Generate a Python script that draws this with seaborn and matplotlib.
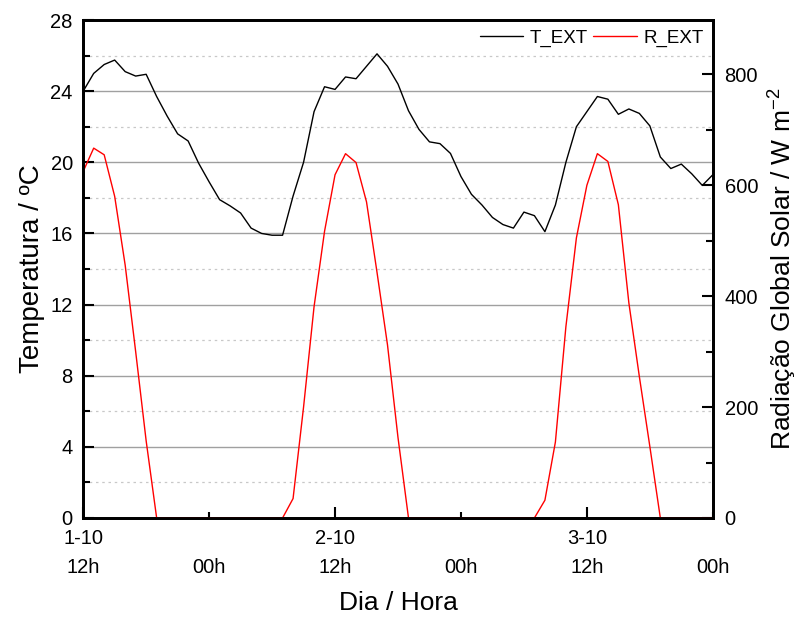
import numpy as np
import pandas as pd
import matplotlib
matplotlib.use("Agg")
import matplotlib.pyplot as plt
import seaborn as sns
from matplotlib.lines import Line2D

# ---- data (hourly, starting 1-10 12h) ----
hours = list(range(61))
t_ext = [24.0, 25.0, 25.5, 25.75, 25.1, 24.85, 24.95, 23.7, 22.6, 21.6,
         21.2, 19.95, 18.9, 17.9, 17.55, 17.15, 16.3, 16.0, 15.9, 15.9,
         18.1, 20.0, 22.85, 24.25, 24.1, 24.8, 24.7, 25.4, 26.1, 25.4,
         24.4, 22.9, 21.85, 21.15, 21.05, 20.5, 19.2, 18.2, 17.6, 16.9,
         16.5, 16.3, 17.2, 17.0, 16.1, 17.6, 20.0, 22.0, 22.85, 23.7,
         23.55, 22.7, 23.0, 22.75, 22.05, 20.3, 19.65, 19.9, 19.35, 18.7,
         19.3]
r_ext = [625, 667, 655, 580, 456, 300, 139, 0, 0, 0,
         0, 0, 0, 0, 0, 0, 0, 0, 0, 0,
         35, 200, 381, 517, 619, 657, 641, 570, 443, 312,
         145, 0, 0, 0, 0, 0, 0, 0, 0, 0,
         0, 0, 0, 0, 32, 137, 345, 505, 600, 657,
         643, 565, 388, 255, 129, 0, 0, 0, 0, 0,
         0]
major_x = [0, 24, 48]
major_x_labels = ["1-10\n12h", "2-10\n12h", "3-10\n12h"]
minor_x = [12, 36, 60]
minor_x_labels = ["\n00h", "\n00h", "\n00h"]
t_ticks = [0, 4, 8, 12, 16, 20, 24, 28]
r_ticks = [0, 200, 400, 600, 800]

df = pd.DataFrame({"hora": hours, "T_EXT": t_ext, "R_EXT": r_ext})

sns.set_style("white")
plt.rcParams["font.family"] = ["Liberation Sans", "DejaVu Sans"]
plt.rcParams["mathtext.fontset"] = "custom"
plt.rcParams["mathtext.rm"] = "Liberation Sans"
plt.rcParams["mathtext.it"] = "Liberation Sans"
for key in ("text.color", "axes.labelcolor", "xtick.color", "ytick.color"):
    plt.rcParams[key] = "black"

fig = plt.figure(figsize=(8, 6.17), dpi=100)
ax = fig.add_axes([0.104, 0.1605, 0.787, 0.807])

sns.lineplot(data=df, x="hora", y="T_EXT", ax=ax, color="black", lw=1.0,
             legend=False)
ax2 = ax.twinx()
sns.lineplot(data=df, x="hora", y="R_EXT", ax=ax2, color="#ff0000", lw=1.0,
             legend=False)

ax.set_xlim(0, 60)
ax.set_ylim(0, 28)
ax2.set_ylim(0, 898)

# x ticks
ax.set_xticks(major_x, labels=major_x_labels)
ax.set_xticks(minor_x, labels=minor_x_labels, minor=True)
ax.tick_params(axis="x", which="major", direction="in", length=8, width=1.5,
               labelsize=14.5, pad=8, bottom=True, top=False)
ax.tick_params(axis="x", which="minor", direction="in", length=4, width=1.5,
               labelsize=14.5, pad=8, bottom=True, top=False)
for lbl in ax.get_xticklabels(which="both"):
    lbl.set_linespacing(1.68)

# left y ticks
ax.set_yticks(t_ticks)
ax.set_yticks(np.arange(2, 28, 4), minor=True)
ax.tick_params(axis="y", which="major", direction="in", length=8, width=1.5,
               labelsize=14.5, pad=7.5, left=True, right=False)
ax.tick_params(axis="y", which="minor", direction="in", length=5, width=1.5,
               left=True, right=False)

# right y ticks
ax2.set_yticks(r_ticks)
ax2.set_yticks(np.arange(100, 900, 200), minor=True)
ax2.tick_params(axis="y", which="major", direction="in", length=8, width=1.5,
                labelsize=14.5, pad=8.5, right=True, left=False)
ax2.tick_params(axis="y", which="minor", direction="in", length=5, width=1.5,
                right=True, left=False)

# grid
ax.yaxis.grid(True, which="major", color="#a0a0a0", lw=1.0, ls="-")
ax.yaxis.grid(True, which="minor", color="#c8c8c8", lw=0.9, ls=(0, (2, 3)))
ax.xaxis.grid(False, which="both")
ax.set_axisbelow(True)

for a in (ax, ax2):
    for s in a.spines.values():
        s.set_visible(True)
        s.set_color("black")
        s.set_linewidth(2.0)

ax.set_xlabel("Dia / Hora", fontsize=19, labelpad=10)
ax.set_ylabel("Temperatura / ºC", fontsize=20, labelpad=4)
ax2.set_ylabel("Radiação Global Solar / W m$^{\\mathregular{-2}}$", fontsize=19,
               labelpad=6, rotation=90)

handles = [Line2D([], [], color="black", lw=1.0),
           Line2D([], [], color="#ff0000", lw=1.0)]
ax2.legend(handles, ["T_EXT", "R_EXT"], loc="upper right", ncol=2,
           frameon=False, fontsize=13.5, handlelength=2.3, handletextpad=0.35,
           columnspacing=0.3, borderaxespad=0.3, borderpad=0.2)

fig.savefig("out.png", dpi=100)
